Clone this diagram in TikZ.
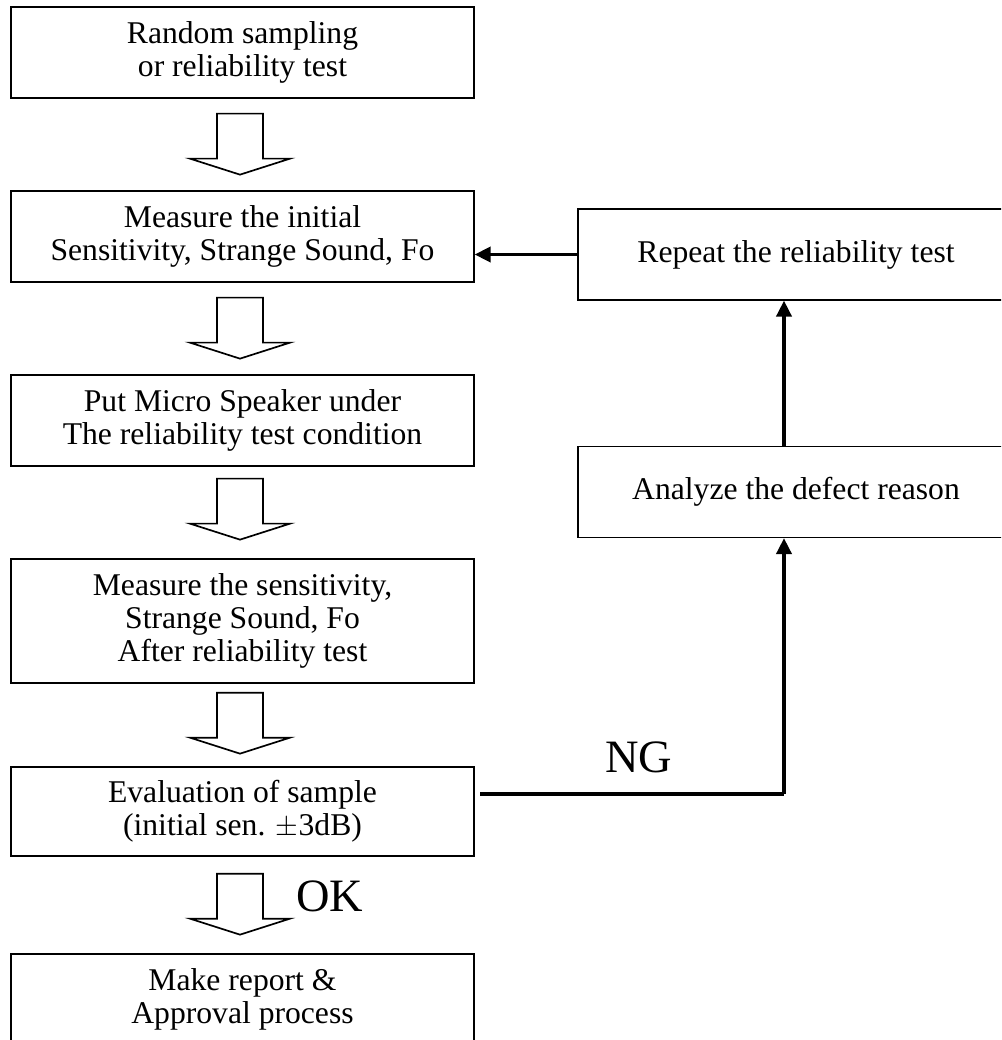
\documentclass[tikz,border=0pt]{standalone}
\usepackage{fontspec}
\setmainfont{Liberation Serif}
\usetikzlibrary{arrows.meta}

\begin{document}
\begin{tikzpicture}[x=0.025cm,y=-0.025cm,
    box/.style={draw,line width=0.9pt,minimum width=11.575cm,minimum height=2.275cm,
      align=center,font=\fontsize{22.5}{23.6}\selectfont},
    sidebox/.style={box,minimum width=10.9cm},
    blockarrow/.style={draw,line width=1.2pt,fill=white},
    flowline/.style={line width=2.4pt,-{Triangle[length=0.4cm,width=0.38cm]}},
    tag/.style={font=\fontsize{33}{36}\selectfont}]
    \useasboundingbox (0,0) rectangle (1001,1040);
    \clip (0,0) rectangle (1001,1040);
    % main column
    \node[box] (sample) at (242.5,52.5) {Random sampling\\or reliability test};
    \node[box] (initial) at (242.5,236.5) {Measure the initial\\Sensitivity, Strange Sound, Fo};
    \node[box] (cond) at (242.5,420.5) {Put Micro Speaker under\\The reliability test condition};
    \node[box,minimum height=3.1cm] (after) at (242.5,621) {Measure the sensitivity,\\Strange Sound, Fo\\After reliability test};
    \node[box,minimum height=2.225cm] (eval) at (242.5,811.5) {Evaluation of sample\\(initial sen. $\pm$3dB)};
    \node[box] (report) at (242.5,999.5) {Make report \&\\Approval process};
    % right column
    \node[sidebox] (repeat) at (796,254.5) {Repeat the reliability test};
    \node[sidebox] (analyze) at (796,492) {Analyze the defect reason};
    % block arrows
    \foreach \a/\g in {sample/15,initial/15,cond/12,after/9,eval/17}
      \draw[blockarrow] (\a.south) ++(-25.5,\g) -- ++(46,0) -- ++(0,45) -- ++(27,0)
        -- ++(-50,16) -- ++(-50,-16) -- ++(27,0) -- cycle;
    \node[tag] (ok) at (330,896) {OK};
    % NG loop
    \coordinate (ng) at (480,794);
    \coordinate (bend) at (784,794);
    \draw[line width=2.8pt] (ng) -- (bend);
    \draw[flowline] (bend) -- (bend |- analyze.south);
    \draw[flowline] (bend |- analyze.north) -- (bend |- repeat.south);
    \draw[flowline] (repeat.west) -- (repeat.west -| initial.east);
    \node[tag] (nglabel) at (639,757) {NG};
\end{tikzpicture}
\end{document}
